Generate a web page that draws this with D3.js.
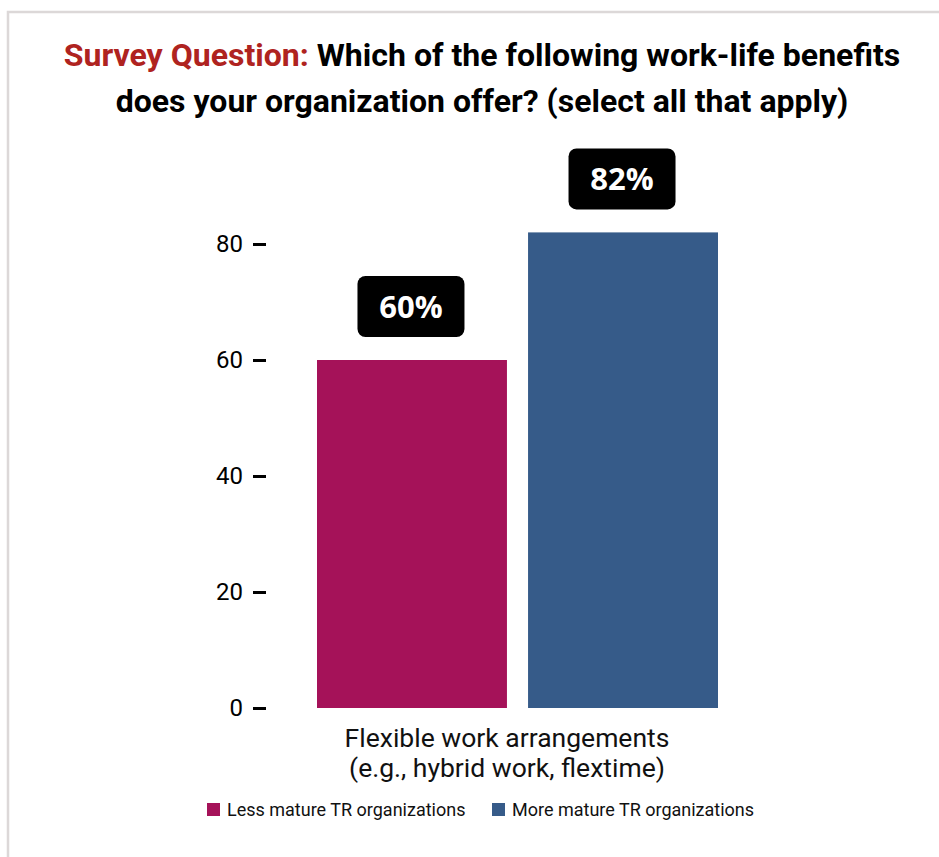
<!DOCTYPE html>
<html>
<head>
<meta charset="utf-8">
<script src="https://cdn.jsdelivr.net/npm/d3@7"></script>
<style>
  html, body { margin: 0; padding: 0; background: #fff; }
  svg { display: block; }
</style>
</head>
<body>
<svg id="chart" width="939" height="857"></svg>
<script>
// Chart data
const categories = ["Flexible work arrangements (e.g., hybrid work, flextime)"];
const categoryLines = [["Flexible work arrangements", "(e.g., hybrid work, flextime)"]];
const seriesNames = ["Less mature TR organizations", "More mature TR organizations"];
const seriesColors = ["#A51259", "#365B89"];
const lessMature = [60];
const moreMature = [82];
const yTicks = [0, 20, 40, 60, 80];

const svg = d3.select("#chart");
const W = 939, H = 857;

// Panel frame
svg.append("rect")
  .attr("x", 8).attr("y", 12)
  .attr("width", W + 20).attr("height", H + 20)
  .attr("fill", "#fff")
  .attr("stroke", "#dcd8d8")
  .attr("stroke-width", 2.5);

// Title, fitted to its line width
const titleFont = "Roboto, 'Liberation Sans', sans-serif";
function fitTitle(y, parts, targetWidth, cx) {
  const t = svg.append("text")
    .attr("y", y)
    .attr("font-family", titleFont)
    .attr("font-weight", 700)
    .attr("font-size", 32)
    .attr("text-anchor", "middle");
  parts.forEach(p => t.append("tspan").attr("fill", p.color).text(p.text));
  const w = t.node().getComputedTextLength();
  const s = targetWidth / w;
  t.attr("transform", `translate(${cx},0) scale(${s},1)`).attr("x", 0);
}
fitTitle(66, [
  { text: "Survey Question: ", color: "#AF2320" },
  { text: "Which of the following work-life benefits", color: "#000" }
], 837, 482);
fitTitle(112, [
  { text: "does your organization offer? (select all that apply)", color: "#000" }
], 733, 482);

// Scales
const y = d3.scaleLinear().domain([0, 82]).range([708, 232.4]);
const x0 = d3.scaleBand().domain(categories).range([317, 718]).paddingInner(0).paddingOuter(0);
const x1 = d3.scaleBand().domain(seriesNames).range([0, x0.bandwidth()]).paddingInner(0.1).paddingOuter(0);
const color = d3.scaleOrdinal().domain(seriesNames).range(seriesColors);

// Y axis
const yAxis = d3.axisLeft(y).tickValues(yTicks).tickSize(13).tickPadding(10).tickFormat(d3.format("d"));
const gy = svg.append("g").attr("transform", "translate(266,0)").call(yAxis);
gy.select(".domain").remove();
gy.selectAll(".tick line").attr("stroke", "#000").attr("stroke-width", 3);
gy.selectAll(".tick text")
  .attr("font-family", "Roboto, sans-serif")
  .attr("font-size", 24)
  .attr("fill", "#000");

// Bars
const rows = categories.map((c, i) => ({
  category: c,
  values: [
    { series: seriesNames[0], value: lessMature[i] },
    { series: seriesNames[1], value: moreMature[i] }
  ]
}));

const groups = svg.selectAll("g.cat").data(rows).join("g")
  .attr("class", "cat")
  .attr("transform", d => `translate(${x0(d.category)},0)`);

groups.selectAll("rect.bar").data(d => d.values).join("rect")
  .attr("class", "bar")
  .attr("x", d => x1(d.series))
  .attr("y", d => y(d.value))
  .attr("width", x1.bandwidth())
  .attr("height", d => y(0) - y(d.value))
  .attr("fill", d => color(d.series));

// Value badges
const badgeW = 107, badgeH = 61, badgeGap = 23;
const badges = groups.selectAll("g.badge").data(d => d.values).join("g")
  .attr("class", "badge")
  .attr("transform", d => `translate(${x1(d.series) + x1.bandwidth() / 2 - 1},${y(d.value) - badgeGap - badgeH})`);
badges.append("rect")
  .attr("x", -badgeW / 2).attr("y", 0)
  .attr("width", badgeW).attr("height", badgeH)
  .attr("rx", 8).attr("ry", 8)
  .attr("fill", "#000");
badges.append("text")
  .attr("x", 0).attr("y", badgeH / 2 + 11)
  .attr("text-anchor", "middle")
  .attr("font-family", "'Open Sans', sans-serif")
  .attr("font-weight", 700)
  .attr("font-size", 31)
  .attr("fill", "#fff")
  .text(d => d.value + "%");

// Category label
groups.each(function(d, i) {
  const t = d3.select(this).append("text")
    .attr("text-anchor", "middle")
    .attr("font-family", "Roboto, sans-serif")
    .attr("font-size", 26.5)
    .attr("fill", "#111");
  categoryLines[i].forEach((line, k) => {
    t.append("tspan")
      .attr("x", x0.bandwidth() / 2 - 10.5)
      .attr("y", 747 + k * 30)
      .text(line);
  });
});

// Legend
const legendX = [207, 492];
const legend = svg.selectAll("g.legend").data(seriesNames).join("g")
  .attr("class", "legend")
  .attr("transform", (d, i) => `translate(${legendX[i]},803)`);
legend.append("rect")
  .attr("width", 13).attr("height", 13)
  .attr("fill", d => color(d));
legend.append("text")
  .attr("x", 20).attr("y", 13)
  .attr("font-family", "Roboto, sans-serif")
  .attr("font-size", 18)
  .attr("fill", "#111")
  .text(d => d);
</script>
</body>
</html>
